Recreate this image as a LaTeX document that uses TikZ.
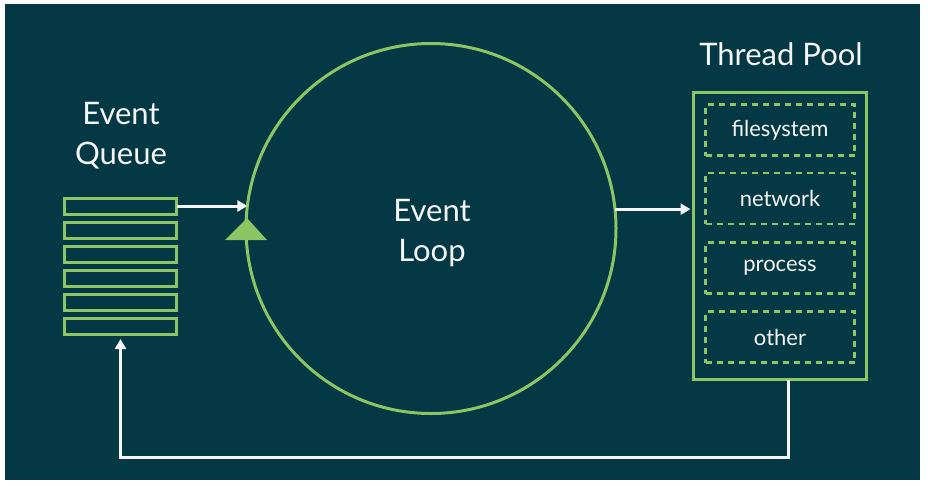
\documentclass[tikz,border=0pt]{standalone}
\usepackage{fontspec}
\setmainfont{Lato}
\usetikzlibrary{arrows.meta}
\definecolor{bgteal}{RGB}{3,56,68}
\definecolor{lgreen}{RGB}{140,198,100}
\definecolor{txt}{RGB}{245,245,245}
\begin{document}
\begin{tikzpicture}[x=1pt,y=-1pt,
  qrow/.style={draw=lgreen,line width=3pt,minimum width=112pt,minimum height=16pt,inner sep=0pt,outer sep=0pt},
  loopcirc/.style={circle,draw=lgreen,line width=3pt,minimum size=370pt,inner sep=0pt,outer sep=0pt},
  poolbox/.style={draw=lgreen,line width=3pt,minimum width=173pt,minimum height=287pt,inner sep=0pt,outer sep=0pt},
  worker/.style={draw=lgreen,line width=2.5pt,dash pattern=on 6pt off 5pt,minimum width=149pt,minimum height=51pt,inner sep=0pt,text=txt,font=\fontsize{22}{26}\selectfont},
  bigtext/.style={text=txt,font=\fontsize{31}{40}\selectfont,align=center,inner sep=0pt},
  arr/.style={draw=txt,line width=3pt,-{Triangle[length=10pt,width=11pt]}}
]
\useasboundingbox (0,0) rectangle (928,485);
\fill[white] (0,0) rectangle (928,485);
\fill[bgteal] (5,4) rectangle (920,480);

% event queue
\foreach \i/\yy in {1/206,2/230,3/254,4/278,5/302,6/326}{
  \node[qrow] (q\i) at (120.5,\yy) {};
}
\node[bigtext,anchor=base] (eqlabel) at (121,164) {Event\\Queue};

% event loop
\node[loopcirc] (loop) at (431,228.5) {};
\node[bigtext,anchor=base] (looplabel) at (432,261) {Event\\Loop};
\fill[lgreen] (225,240) -- (267,240) -- (247,218) -- cycle;

% thread pool
\node[poolbox] (pool) at (780,236) {};
\node[bigtext,anchor=base,font=\fontsize{31}{36}\selectfont] (poollabel) at (781,65) {Thread Pool};
\node[worker] (w1) at (780,130) {filesystem};
\node[worker] (w2) at (780,198.5) {network};
\node[worker] (w3) at (780,268) {process};
\node[worker] (w4) at (780,337) {other};

% connectors
\draw[arr] (q1.east) -- (q1.east -| loop.173.3);
\draw[arr,shorten >=3pt] (loop.6.7) -- (loop.6.7 -| pool.west);
\coordinate (bot) at (0,457);
\draw[arr,shorten >=5pt] ([xshift=8pt]pool.south) |- (bot -| q6.south) -- (q6.south);
\end{tikzpicture}
\end{document}
